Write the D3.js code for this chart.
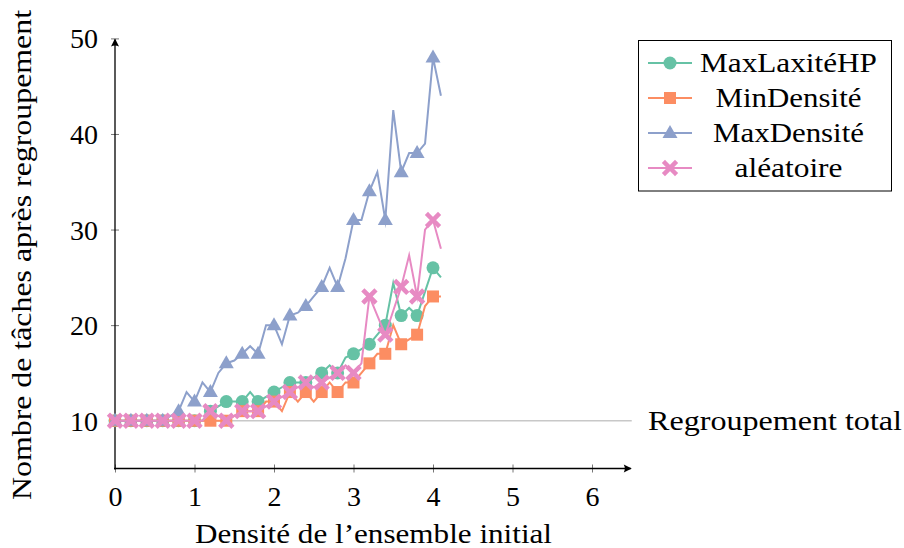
<!DOCTYPE html>
<html>
<head>
<meta charset="utf-8">
<script src="https://cdn.jsdelivr.net/npm/d3@7/dist/d3.min.js"></script>
<style>
  html, body { margin: 0; padding: 0; background: #fff; }
  svg { display: block; }
  svg text { font-family: "Liberation Serif", "Times New Roman", Times, serif !important; fill: #000; }
</style>
</head>
<body>
<svg id="chart" width="904" height="548"></svg>
<script>
// ---- data ----
const densite = [0.0,0.1,0.2,0.3,0.4,0.5,0.6,0.7,0.8,0.9,1.0,1.1,1.2,1.3,1.4,1.5,1.6,1.7,1.8,1.9,2.0,
                 2.1,2.2,2.3,2.4,2.5,2.6,2.7,2.8,2.9,3.0,3.1,3.2,3.3,3.4,3.5,3.6,3.7,3.8,3.9,4.0,4.1];
const maxLaxiteHP = [10,10,10,10,10,10,10,10,10,10,10,10,11,11.5,12,12,12,13,12,12.5,13,
                     13.5,14,14,14,14.5,15,15.8,15,16.6,17,17.5,18,19,20,24.4,21,21.8,21,23.5,26,25];
const minDensite  = [10,10,10,10,10,10,10,10,10,10,10,10,10,10,10,10.5,11,11,11,12,12,
                     11,13,12,13,12,13,14,13,14,14,15,16,17,17,20,18,18.5,19,22,23,23];
const maxDensite  = [10,10,10,10,10,10,10,10.5,11,13,12,14,13,15,16,16.3,17,17.8,17,20,20,
                     18,21,21.3,22,23,24,26,24,27,31,31,34,36,31,42.5,36,38,38,39,48,44];
const aleatoire   = [10,10,10,10,10,10,10,10,10,10,10,10,11,10.5,10,10.5,11,11,11,11.5,12,
                     12.5,13,13.5,14,13.5,14,14.5,15,15.8,15,16,23,21,19,21.5,24,27.3,23,30,31,28];
const seriesNames = ["MaxLaxitéHP","MinDensité","MaxDensité","aléatoire"];
const seriesColors = ["#66c2a5","#fc8d62","#8da0cb","#e78ac3"];
const seriesMarks = ["circle","square","triangle","cross"];
const xTicks = [0,1,2,3,4,5,6];
const yTicks = [10,20,30,40,50];
const xDomain = [0,6.5];
const yDomain = [5,50];
const refValue = 10;
const refLabel = "Regroupement total";
const xTitle = "Densité de l\u2019ensemble initial";
const yTitle = "Nombre de tâches après regroupement";

const allSeries = [maxLaxiteHP, minDensite, maxDensite, aleatoire];
const FONT = "'Liberation Serif', 'Times New Roman', Times, serif";

// ---- drawing ----
const svg = d3.select("#chart");
const x = d3.scaleLinear().domain(xDomain).range([115, 631.75]);
const y = d3.scaleLinear().domain(yDomain).range([468.5, 38.4]);

// reference line
svg.append("line")
  .attr("x1", x(0)).attr("x2", x(xDomain[1]))
  .attr("y1", y(refValue)).attr("y2", y(refValue))
  .attr("stroke", "#c8c8c8").attr("stroke-width", 1.5);
svg.append("text")
  .attr("x", 648).attr("y", y(refValue) + 9)
  .attr("font-family", FONT).attr("font-size", 28)
  .attr("textLength", 254).attr("lengthAdjust", "spacingAndGlyphs")
  .text(refLabel);

// axes
const gx = svg.append("g").attr("transform", `translate(0,${y(yDomain[0])})`)
  .call(d3.axisBottom(x).tickValues(xTicks).tickSize(0).tickFormat(d3.format("d")));
gx.attr("font-family", FONT);
gx.select(".domain").remove();
gx.selectAll("text").attr("font-size", 28).attr("dy", 0).attr("y", 37).attr("font-family", FONT);
gx.selectAll(".tick").append("line").attr("y1", -4).attr("y2", 4).attr("stroke", "#777").attr("stroke-width", 1);

const gy = svg.append("g").attr("transform", `translate(${x(0)},0)`)
  .call(d3.axisLeft(y).tickValues(yTicks).tickSize(0).tickFormat(d3.format("d")));
gy.attr("font-family", FONT);
gy.select(".domain").remove();
gy.selectAll("text").attr("font-size", 28).attr("dy", 0).attr("x", -17).attr("y", 9.5).attr("font-family", FONT);
gy.selectAll(".tick").append("line").attr("x1", -4).attr("x2", 4).attr("stroke", "#777").attr("stroke-width", 1);

// axis lines with arrows
const x0 = x(0), yb = y(yDomain[0]);
svg.append("line").attr("x1", x0 - 1).attr("x2", x(xDomain[1]) - 1)
  .attr("y1", yb).attr("y2", yb).attr("stroke", "#000").attr("stroke-width", 1.3);
svg.append("line").attr("x1", x0).attr("x2", x0)
  .attr("y1", yb + 1).attr("y2", y(yDomain[1]) + 1).attr("stroke", "#000").attr("stroke-width", 1.3);
const ax = x(xDomain[1]);
svg.append("path").attr("d", `M${ax},${yb} L${ax-8},${yb-4} Q${ax-6},${yb} ${ax-8},${yb+4} Z`).attr("fill", "#000");
const ay = y(yDomain[1]);
svg.append("path").attr("d", `M${x0},${ay} L${x0-4},${ay+8} Q${x0},${ay+6} ${x0+4},${ay+8} Z`).attr("fill", "#000");

// axis titles
svg.append("text").attr("x", 373.5).attr("y", 543).attr("text-anchor", "middle").attr("font-family", FONT)
  .attr("font-size", 28).attr("textLength", 357).attr("lengthAdjust", "spacingAndGlyphs").text(xTitle);
svg.append("text").attr("transform", "translate(31,255) rotate(-90)").attr("text-anchor", "middle").attr("font-family", FONT)
  .attr("font-size", 28).attr("textLength", 490).attr("lengthAdjust", "spacingAndGlyphs").text(yTitle);

// marker drawer
function drawMark(g, type, cx, cy, color) {
  if (type === "circle") {
    g.append("circle").attr("cx", cx).attr("cy", cy).attr("r", 6.5).attr("fill", color);
  } else if (type === "square") {
    g.append("rect").attr("x", cx - 6).attr("y", cy - 6).attr("width", 12).attr("height", 12).attr("fill", color);
  } else if (type === "triangle") {
    g.append("path").attr("d", `M${cx},${cy-8} L${cx+7.5},${cy+5} L${cx-7.5},${cy+5} Z`).attr("fill", color);
  } else {
    g.append("path").attr("d", `M${cx-5},${cy-5} L${cx+5},${cy+5} M${cx-5},${cy+5} L${cx+5},${cy-5}`)
      .attr("stroke", color).attr("stroke-width", 4.5).attr("stroke-linecap", "square").attr("fill", "none");
  }
}

const line = d3.line().x((d, i) => x(densite[i])).y(d => y(d));

allSeries.forEach((vals, si) => {
  const g = svg.append("g");
  g.append("path").datum(vals).attr("d", line)
    .attr("fill", "none").attr("stroke", seriesColors[si]).attr("stroke-width", 2)
    .attr("stroke-linejoin", "miter").attr("stroke-miterlimit", 10);
  vals.forEach((v, i) => {
    if (i % 2 === 0) drawMark(g, seriesMarks[si], x(densite[i]), y(v), seriesColors[si]);
  });
});

// legend
const lg = svg.append("g");
lg.append("rect").attr("x", 638.5).attr("y", 40.5).attr("width", 253).attr("height", 150.5)
  .attr("fill", "#fff").attr("stroke", "#000").attr("stroke-width", 1);
const legendY = [63, 98, 133, 168];
const legendW = [177, 146, 151, 108];
seriesNames.forEach((name, i) => {
  const ly = legendY[i];
  lg.append("line").attr("x1", 648).attr("x2", 692).attr("y1", ly).attr("y2", ly)
    .attr("stroke", seriesColors[i]).attr("stroke-width", 2);
  drawMark(lg, seriesMarks[i], 670, ly, seriesColors[i]);
  lg.append("text").attr("x", 788.5).attr("y", ly + 8.5).attr("text-anchor", "middle").attr("font-family", FONT)
    .attr("font-size", 28).attr("textLength", legendW[i]).attr("lengthAdjust", "spacingAndGlyphs").text(name);
});
</script>
</body>
</html>
